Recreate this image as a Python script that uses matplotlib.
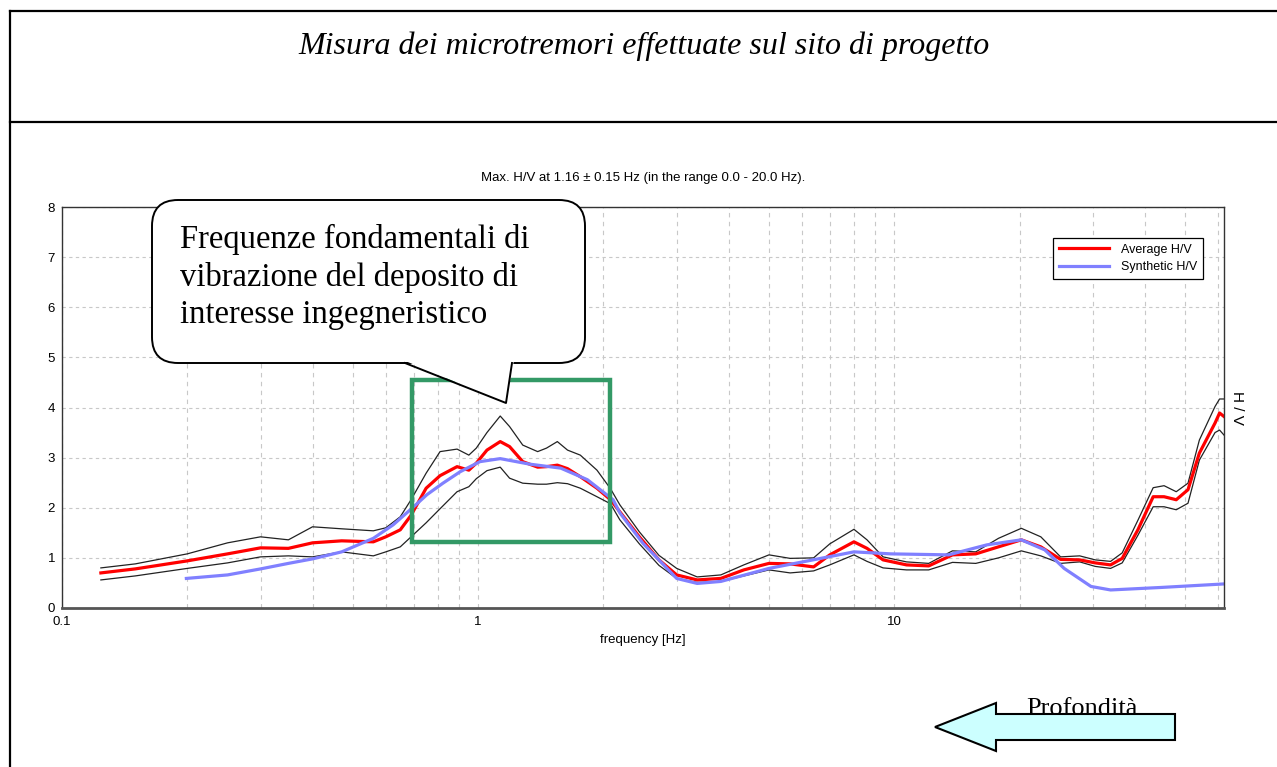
import matplotlib
matplotlib.use("Agg")
import matplotlib.pyplot as plt
from matplotlib.patches import FancyBboxPatch, Polygon, Rectangle
from matplotlib.lines import Line2D
from matplotlib.ticker import FixedLocator, NullFormatter

W, H = 1277, 767

# H/V spectrum: average curve and the +/- standard deviation envelope
freq = [0.124, 0.15, 0.2, 0.25, 0.30, 0.35, 0.40, 0.47, 0.56, 0.60, 0.65, 0.69,
        0.75, 0.81, 0.89, 0.95, 0.99, 1.05, 1.13, 1.19, 1.28, 1.39, 1.46, 1.55,
        1.64, 1.76, 1.93, 2.08, 2.19, 2.44, 2.72, 3.0, 3.36, 3.83, 4.35, 5.0,
        5.62, 6.4, 7.0, 8.0, 8.6, 9.4, 10.7, 12.1, 13.8, 15.7, 17.8, 20.2, 22.5,
        25.1, 27.9, 30.4, 33.1, 35.3, 38.5, 41.9, 44.5, 47.6, 50.8, 54.1, 59.0,
        60.5, 62.0]
hv_avg = [0.70, 0.78, 0.94, 1.08, 1.20, 1.19, 1.30, 1.34, 1.32, 1.42, 1.56, 1.85,
          2.39, 2.64, 2.82, 2.75, 2.89, 3.15, 3.32, 3.22, 2.92, 2.81, 2.82, 2.85,
          2.78, 2.62, 2.39, 2.16, 1.92, 1.42, 0.96, 0.66, 0.56, 0.59, 0.76, 0.89,
          0.88, 0.82, 1.06, 1.32, 1.19, 0.96, 0.86, 0.84, 1.06, 1.08, 1.22, 1.36, 1.22,
          0.97, 0.96, 0.90, 0.86, 0.99, 1.56, 2.22, 2.22, 2.16, 2.36, 3.09, 3.69,
          3.89, 3.82]
hv_upper = [0.80, 0.88, 1.08, 1.30, 1.42, 1.36, 1.62, 1.58, 1.54, 1.60, 1.82, 2.16,
            2.69, 3.12, 3.17, 3.05, 3.19, 3.50, 3.83, 3.62, 3.25, 3.12, 3.19, 3.32,
            3.15, 3.05, 2.75, 2.38, 2.06, 1.52, 1.05, 0.79, 0.62, 0.66, 0.86, 1.06,
            0.99, 1.00, 1.28, 1.57, 1.36, 1.02, 0.92, 0.89, 1.14, 1.12, 1.39, 1.59, 1.42,
            1.02, 1.04, 0.96, 0.93, 1.10, 1.75, 2.40, 2.44, 2.32, 2.49, 3.35, 4.02,
            4.17, 4.17]
hv_lower = [0.56, 0.64, 0.79, 0.90, 1.02, 1.04, 1.02, 1.12, 1.04, 1.12, 1.22, 1.42,
            1.70, 1.98, 2.32, 2.42, 2.58, 2.74, 2.81, 2.59, 2.49, 2.47, 2.47, 2.50,
            2.48, 2.39, 2.22, 2.08, 1.76, 1.28, 0.85, 0.59, 0.51, 0.53, 0.64, 0.76,
            0.70, 0.74, 0.86, 1.06, 0.93, 0.80, 0.76, 0.76, 0.91, 0.89, 1.00, 1.14, 1.04,
            0.89, 0.92, 0.83, 0.79, 0.90, 1.45, 2.02, 2.02, 1.96, 2.09, 2.95, 3.50,
            3.55, 3.45]

# synthetic H/V from the layered model
freq_syn = [0.199, 0.25, 0.30, 0.35, 0.40, 0.47, 0.56, 0.625, 0.70, 0.753, 0.823,
            0.906, 1.01, 1.13, 1.33, 1.58, 1.83, 2.11, 2.19, 2.49, 3.0, 3.36, 3.83,
            5.0, 6.38, 8.0, 9.8, 13.5, 16.7, 20.2, 23.0, 25.6, 29.7, 33.1, 43.8, 62.0]
hv_syn = [0.59, 0.66, 0.78, 0.89, 0.98, 1.12, 1.39, 1.66, 2.02, 2.26, 2.49,
          2.72, 2.92, 2.98, 2.87, 2.79, 2.56, 2.16, 1.90, 1.29, 0.59, 0.49, 0.53,
          0.79, 0.96, 1.12, 1.08, 1.06, 1.26, 1.36, 1.16, 0.79, 0.43, 0.36, 0.41, 0.48]

# range of the fundamental peak that gets boxed
peak_f = (0.695, 2.07)
peak_hv = (1.32, 4.54)

title = "Misura dei microtremori effettuate sul sito di progetto"
subtitle = "Max. H/V at 1.16 ± 0.15 Hz (in the range 0.0 - 20.0 Hz)."
callout = "Frequenze fondamentali di\nvibrazione del deposito di\ninteresse ingegneristico"

sans = ["Liberation Sans", "DejaVu Sans"]
serif = ["Liberation Serif", "DejaVu Serif"]


def fx(px):
    return px / W


def fy(py):
    return 1 - py / H


fig = plt.figure(figsize=(W / 100, H / 100), dpi=100)

# page frame and title row
for xs, ys in [((10, 10), (11, H)), ((10, W), (11, 11)), ((10, W), (122, 122))]:
    fig.add_artist(Line2D([fx(x) for x in xs], [fy(y) for y in ys],
                          color="black", lw=1.6))
fig.text(fx(644), fy(46), title, ha="center", va="center", fontsize=23,
         style="italic", family=serif)

ax = fig.add_axes([fx(62), fy(608), fx(1224) - fx(62), fy(207) - fy(608)])
ax.set_xscale("log")
ax.set_xlim(0.1, 62)
ax.set_ylim(0, 8)

ax.plot(freq, hv_upper, color="#222222", lw=0.9)
ax.plot(freq, hv_lower, color="#222222", lw=0.9)
ax.plot(freq, hv_avg, color="#ff0000", lw=2.3, label="Average H/V")
ax.plot(freq_syn, hv_syn, color="#8080ff", lw=2.3, label="Synthetic H/V")

ax.xaxis.set_major_locator(FixedLocator([0.1, 1, 10]))
ax.xaxis.set_minor_locator(FixedLocator(
    [m * d for d in (0.1, 1, 10) for m in range(2, 10) if m * d <= 62]))
ax.xaxis.set_minor_formatter(NullFormatter())
ax.set_xticklabels(["0.1", "1", "10"])
ax.set_yticks(range(0, 9))
ax.tick_params(which="both", length=0, labelsize=9.5)
ax.tick_params(axis="x", pad=6)
ax.tick_params(axis="y", pad=5)
for lab in ax.get_xticklabels() + ax.get_yticklabels():
    lab.set_family(sans)
ax.grid(which="both", axis="x", color="#c8c8c8", ls=(0, (4, 4)), lw=0.8)
ax.grid(which="major", axis="y", color="#c8c8c8", ls=(0, (3, 3)), lw=0.8)
for side in ["left", "top", "right"]:
    ax.spines[side].set_color("#333333")
    ax.spines[side].set_linewidth(1.0)
ax.spines["bottom"].set_color("#555555")
ax.spines["bottom"].set_linewidth(2.0)
ax.set_xlabel("frequency [Hz]", fontsize=9.5, family=sans, labelpad=4)

leg = ax.legend(loc="upper right", bbox_to_anchor=(fx(1203), fy(238)),
                bbox_transform=fig.transFigure, fancybox=False, borderaxespad=0,
                prop={"family": sans, "size": 9}, handlelength=4.0,
                handletextpad=1.0, labelspacing=0.45, borderpad=0.45,
                framealpha=1)
leg.get_frame().set_edgecolor("black")
leg.get_frame().set_linewidth(0.9)

ax.add_patch(Rectangle((peak_f[0], peak_hv[0]), peak_f[1] - peak_f[0],
                       peak_hv[1] - peak_hv[0], fill=False, ec="#339966",
                       lw=3.2, clip_on=False, zorder=6))

fig.text(fx(643), fy(178), subtitle, ha="center", va="center", fontsize=9.5,
         family=sans)
fig.text(fx(1237), fy(408), "H / V", ha="center", va="center", fontsize=11,
         rotation=270, family=sans)

# overlay in pixel units for the callout and the depth arrow
ov = fig.add_axes([0, 0, 1, 1], zorder=10)
ov.set_xlim(0, W)
ov.set_ylim(H, 0)
ov.axis("off")
ov.patch.set_alpha(0)

ov.add_patch(FancyBboxPatch((152, 200), 433, 163,
                            boxstyle="round,pad=0,rounding_size=26",
                            fc="white", ec="black", lw=1.4))
ov.add_patch(Polygon([(403, 360), (506, 403), (514, 360)], closed=True,
                     fc="white", ec="none"))
ov.plot([405, 506, 512], [363, 403, 363], color="black", lw=1.4)
ov.text(180, 224, callout, ha="left", va="top", fontsize=23.5, family=serif,
        linespacing=1.28)

ov.add_patch(Polygon([(935, 727), (996, 703), (996, 714), (1175, 714),
                      (1175, 740), (996, 740), (996, 751)], closed=True,
                     fc="#ccffff", ec="black", lw=1.5))
ov.text(1082, 715, "Profondità", ha="center", va="baseline", fontsize=19,
        family=serif)

fig.savefig("out.png", dpi=100)
